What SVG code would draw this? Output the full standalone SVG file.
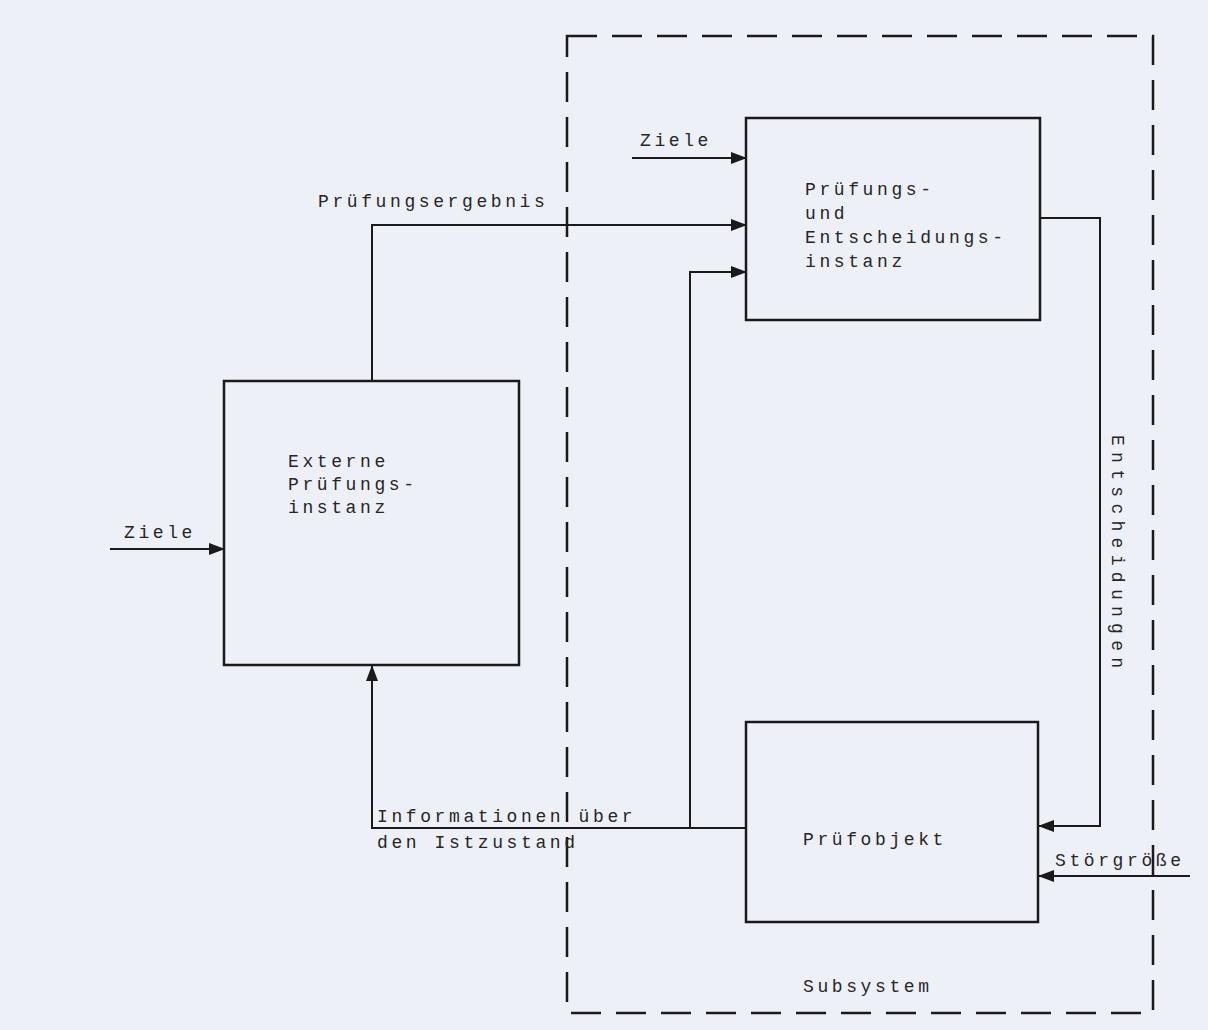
<svg xmlns="http://www.w3.org/2000/svg" width="1208" height="1030" viewBox="0 0 1208 1030">
<defs>
<marker id="ah" viewBox="0 0 16 12" refX="15" refY="6" markerWidth="16" markerHeight="12" markerUnits="userSpaceOnUse" orient="auto">
<path d="M0,0 L16,6 L0,12 Z" fill="#1a1a1a"/>
</marker>
<style>
.box{fill:none;stroke:#1a1a1a;stroke-width:2.5}
.ln{fill:none;stroke:#1a1a1a;stroke-width:2}
.dash{fill:none;stroke:#1a1a1a;stroke-width:2.5;stroke-dasharray:30 15}
text{font-family:"Liberation Mono","DejaVu Sans Mono",monospace;font-size:18px;letter-spacing:3.6px;fill:#262626}
.vert{letter-spacing:6.3px}
</style>
</defs>
<rect width="1208" height="1030" fill="#eef0f7"/>
<g id="subsystem">
<rect class="dash" x="567" y="36" width="586" height="977"/>
<text x="803" y="992">Subsystem</text>
</g>
<g id="connectors">
<line class="ln" x1="110" y1="549" x2="224" y2="549" marker-end="url(#ah)"/>
<line class="ln" x1="632" y1="158" x2="746" y2="158" marker-end="url(#ah)"/>
<polyline class="ln" points="372,381 372,225 746,225" marker-end="url(#ah)"/>
<polyline class="ln" points="690,828 690,272 746,272" marker-end="url(#ah)"/>
<polyline class="ln" points="1040,218 1100,218 1100,826 1039,826" marker-end="url(#ah)"/>
<polyline class="ln" points="746,828 372,828 372,666" marker-end="url(#ah)"/>
<line class="ln" x1="1190" y1="876" x2="1039" y2="876" marker-end="url(#ah)"/>
<text x="124" y="538">Ziele</text>
<text x="640" y="146">Ziele</text>
<text x="318" y="207">Prüfungsergebnis</text>
<text x="377" y="822">Informationen über</text>
<text x="377" y="848">den Istzustand</text>
<text x="1055" y="866">Störgröße</text>
<text class="vert" transform="translate(1112,435) rotate(90)">Entscheidungen</text>
</g>
<g id="pruefungs-entscheidungsinstanz">
<rect class="box" x="746" y="118" width="294" height="202"/>
<text x="805" y="195">Prüfungs-</text>
<text x="805" y="219">und</text>
<text x="805" y="243">Entscheidungs-</text>
<text x="805" y="267">instanz</text>
</g>
<g id="externe-pruefungsinstanz">
<rect class="box" x="224" y="381" width="295" height="284"/>
<text x="288" y="467">Externe</text>
<text x="288" y="490">Prüfungs-</text>
<text x="288" y="513">instanz</text>
</g>
<g id="pruefobjekt">
<rect class="box" x="746" y="722" width="292" height="200"/>
<text x="803" y="845">Prüfobjekt</text>
</g>
</svg>
